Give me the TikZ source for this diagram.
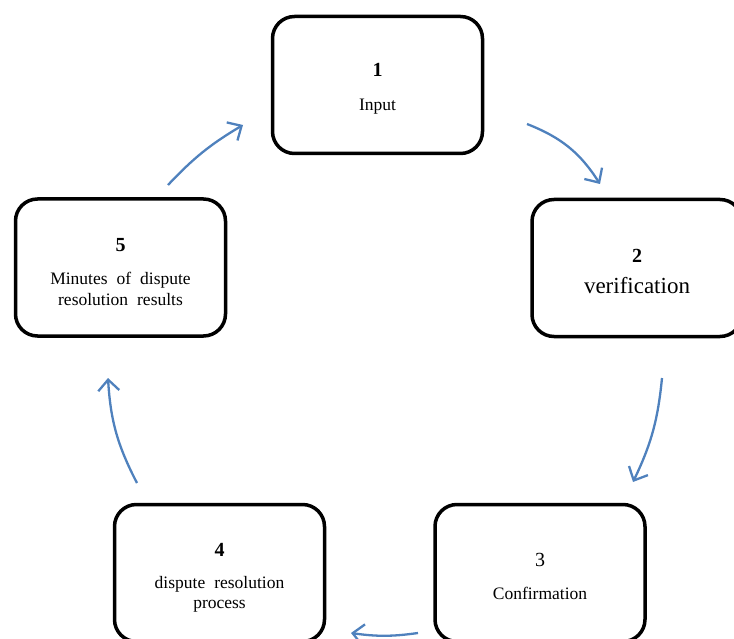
\documentclass[tikz,border=0pt]{standalone}
\usepackage{fontspec}
\setmainfont{Liberation Serif}
\usetikzlibrary{arrows.meta}

\definecolor{flowblue}{HTML}{4F81BD}

\newcommand{\stepnum}[1]{{\fontsize{20}{22}\selectfont\textbf{#1}}}
\newcommand{\widegaps}{\spaceskip=9pt\relax}

\tikzset{
  stagebox/.style={draw, line width=3.5pt, rounded corners=22pt,
    minimum width=210pt, minimum height=137pt},
  stagetext/.style={align=center, inner sep=0pt,
    font=\fontsize{17.5}{22}\selectfont\widegaps},
  cyclearrow/.style={draw=flowblue, line width=2.3pt, bend left=18,
    -{Straight Barb[length=11pt,width=21pt]}}
}

\begin{document}
\begin{tikzpicture}[x=1pt, y=-1pt]
  \useasboundingbox (0,0) rectangle (734,639);

  % stages
  \node[stagebox] (input) at (377.5,85) {};
  \node[stagebox] (verif) at (637,268) {};
  \node[stagebox] (confirm) at (540,573) {};
  \node[stagebox] (process) at (219.5,573) {};
  \node[stagebox] (minutes) at (120.5,267.5) {};

  % stage texts
  \node[stagetext] (input-txt) at ([yshift=-4pt]input.center) {\stepnum{1}\\[12pt]Input};
  \node[stagetext] (verif-txt) at ([yshift=-3pt]verif.center) {\stepnum{2}\\[9pt]{\fontsize{23}{26}\selectfont verification}};
  \node[stagetext] (confirm-txt) at ([yshift=-3pt]confirm.center) {{\fontsize{20}{22}\selectfont 3}\\[11pt]Confirmation};
  \node[stagetext] (process-txt) at ([yshift=-5pt]process.center) {\stepnum{4}\\[10pt]dispute resolution\\[-2pt]process};
  \node[stagetext] (minutes-txt) at ([yshift=-4.5pt]minutes.center) {\stepnum{5}\\[11pt]Minutes of dispute\\[-1pt]resolution results};

  % arrow ends
  \coordinate (a1s) at (527,124);
  \coordinate (a1e) at (600,184);
  \coordinate (a2s) at (662,378);
  \coordinate (a2e) at (633,482);
  \coordinate (a3s) at (418,633);
  \coordinate (a3e) at (351,633);
  \coordinate (a4s) at (137,483);
  \coordinate (a4e) at (108,378);
  \coordinate (a5s) at (168,185);
  \coordinate (a5e) at (243,125);

  % cycle
  \draw[cyclearrow] (a1s) to (a1e);
  \draw[cyclearrow, bend left=10] (a2s) to (a2e);
  \draw[cyclearrow, bend left=8] (a3s) to (a3e);
  \draw[cyclearrow, bend left=12] (a4s) to (a4e);
  \draw[cyclearrow, bend left=8] (a5s) to (a5e);

\end{tikzpicture}
\end{document}
